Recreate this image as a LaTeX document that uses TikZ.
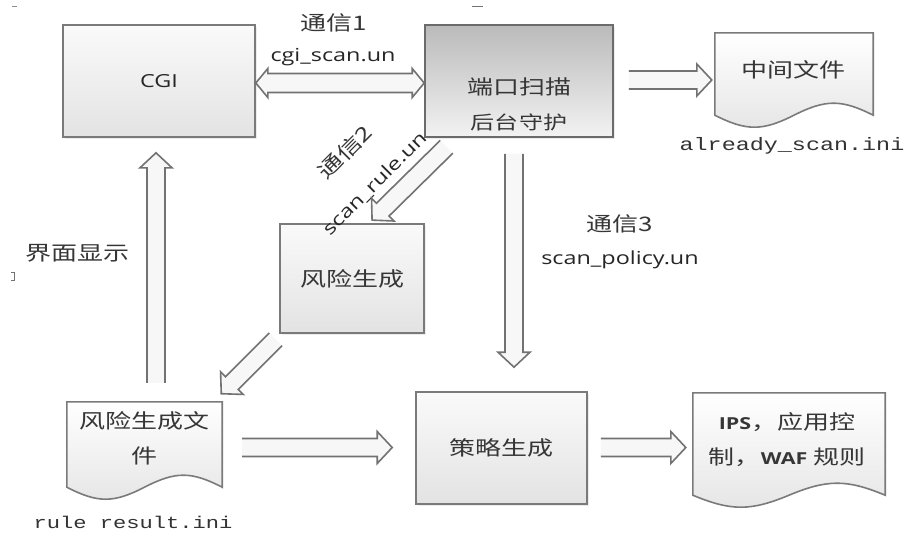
\documentclass[tikz,border=0pt]{standalone}
\usepackage{fontspec}
\newfontfamily\cjk[FakeStretch=1.3]{Noto Sans CJK SC}
\newfontfamily\latin[FakeStretch=1.3]{Open Sans}
\newfontfamily\mono[FakeStretch=1.3]{Liberation Mono}
\usetikzlibrary{calc,shadows}

\definecolor{edge}{HTML}{7A7A7A}
\definecolor{arrowedge}{HTML}{727272}
\definecolor{ink}{HTML}{363636}

% block-arrow geometry: shaft half width, head half width, head length
\newcommand\BAsw{9}
\newcommand\BAhw{16}
\newcommand\BAhl{15}

% length and direction from one named point to another
\newcommand\measure[2]{%
  \path let \p1=(#1), \p2=(#2) in \pgfextra{%
    \pgfmathparse{veclen(\x2-\x1,\y2-\y1)}\xdef\BAlen{\pgfmathresult}%
    \pgfmathparse{atan2(\y2-\y1,\x2-\x1)}\xdef\BAang{\pgfmathresult}};}

% hollow block arrow with an open tail
\newcommand\blockarrow[2]{\measure{#1}{#2}%
  \begin{scope}[shift={(#1)}, rotate=\BAang, x=1pt, y=1pt]
    \fill[arrowbody] (0,-\BAsw) -- (\BAlen-\BAhl,-\BAsw) -- (\BAlen-\BAhl,-\BAhw)
      -- (\BAlen,0) -- (\BAlen-\BAhl,\BAhw) -- (\BAlen-\BAhl,\BAsw) -- (0,\BAsw) -- cycle;
    \draw[arrowline] (0,-\BAsw) -- (\BAlen-\BAhl,-\BAsw) -- (\BAlen-\BAhl,-\BAhw)
      -- (\BAlen,0) -- (\BAlen-\BAhl,\BAhw) -- (\BAlen-\BAhl,\BAsw) -- (0,\BAsw);
  \end{scope}}

% block arrow with a head at both ends
\newcommand\doublearrow[2]{\measure{#1}{#2}%
  \begin{scope}[shift={(#1)}, rotate=\BAang, x=1pt, y=1pt]
    \filldraw[arrowbody, arrowline] (0,0) -- (\BAhl,\BAhw) -- (\BAhl,\BAsw)
      -- (\BAlen-\BAhl,\BAsw) -- (\BAlen-\BAhl,\BAhw) -- (\BAlen,0)
      -- (\BAlen-\BAhl,-\BAhw) -- (\BAlen-\BAhl,-\BAsw) -- (\BAhl,-\BAsw)
      -- (\BAhl,-\BAhw) -- cycle;
  \end{scope}}

% document outline with a wavy lower edge, drawn over a named region
\newcommand\docshape[1]{%
  \path[docbody] let \p1=(#1.north west), \p2=(#1.south east), \n1={\x2-\x1} in
    (\x1,\y1) -- (\x2,\y1) -- (\x2,\y2)
    .. controls (\x2-0.2*\n1,\y2+16pt) and (\x2-0.3*\n1,\y2+16pt) .. (\x1+0.5*\n1,\y2)
    .. controls (\x1+0.3*\n1,\y2-16pt) and (\x1+0.2*\n1,\y2-16pt) .. (\x1,\y2) -- cycle;}

\tikzset{
  arrowbody/.style={fill=black!3},
  arrowline/.style={draw=arrowedge, line width=1.6pt, line join=miter},
  lightbox/.style={draw=edge, line width=1.6pt, top color=black!2, bottom color=black!11,
    drop shadow={shadow xshift=2pt, shadow yshift=-2pt, opacity=0.15}},
  darkbox/.style={draw=black!58, line width=1.6pt, top color=black!27, bottom color=black!5,
    drop shadow={shadow xshift=2pt, shadow yshift=-2pt, opacity=0.15}},
  docbody/.style={draw=edge, line width=1.6pt, top color=white, bottom color=black!10},
  region/.style={inner sep=0pt},
  cjktext/.style={font=\cjk\fontsize{20}{35}\selectfont, text=ink, inner sep=0pt, align=center},
  latintext/.style={font=\latin\fontsize{18}{22}\selectfont, text=black!85, inner sep=0pt},
  monotext/.style={font=\mono\fontsize{18}{22}\selectfont, text=black!80, inner sep=0pt},
}

\begin{document}
\begin{tikzpicture}[x=1pt, y=-1pt]
\useasboundingbox[fill=white] (0,0) rectangle (908,536);

% stray marks along the edges
\draw[black!45, line width=1pt] (12,6) -- (17,6);
\draw[black!55, line width=1pt] (472,6) -- (483,6);
\draw[black!55, line width=0.8pt] (11,272) -- (14,272) -- (14,280) -- (11,280);

% process boxes
\node[lightbox, minimum width=192pt, minimum height=112pt,
      font=\latin\fontsize{18}{22}\selectfont, text=black!85] (cgi) at (159,81) {CGI};
\node[darkbox, minimum width=188pt, minimum height=112pt] (port) at (519,81) {};
\node[cjktext] (porttext) at (519,104.5) {端口扫描\\{\fontsize{18.5}{35}\selectfont 后台守护}};
\node[lightbox, cjktext, minimum width=144pt, minimum height=109pt] (risk) at (352,278.5) {风险生成};
\node[lightbox, cjktext, minimum width=171pt, minimum height=112pt] (policy) at (501.5,448) {策略生成};

% documents
\node[region, minimum width=158pt, minimum height=82pt] (mid) at (794,74) {};
\docshape{mid}
\node[cjktext] (midtext) at (793,70) {中间文件};
\node[monotext] (midname) at (792,146) {already\_scan.ini};

\node[region, minimum width=155pt, minimum height=85pt] (riskfile) at (144.5,444.5) {};
\docshape{riskfile}
\node[cjktext] (riskfiletext) at (144,438.5) {风险生成文\\件};
\node[monotext, font=\mono\fontsize{17}{22}\selectfont] (riskfilename) at (133,522) {rule result.ini};

\node[region, minimum width=192pt, minimum height=102pt] (ips) at (789,444) {};
\docshape{ips}
\node[cjktext] (ipstext) at (787,440)
  {{\latin\bfseries\fontsize{16.5}{35}\selectfont IPS}，应用控\\制，{\latin\bfseries\fontsize{16.5}{35}\selectfont WAF} 规则};

% connector labels
\node[cjktext] (l1a) at (334,23) {通信1};
\node[latintext] (l1b) at (333,57) {cgi\_scan.un};
\node[cjktext, rotate=45] (l2a) at (345,152) {通信2};
\node[latintext, rotate=45] (l2b) at (375,184) {scan\_rule.un};
\node[cjktext] (l3a) at (620,224) {通信3};
\node[latintext] (l3b) at (620,260) {scan\_policy.un};
\node[cjktext] (ui) at (77,253) {界面显示};

% connector end points
\coordinate (c1a) at ($(cgi.east)+(0,2)$);
\coordinate (c1b) at ($(port.west)+(0,2)$);
\coordinate (c2a) at ($(port.east)+(15,-1)$);
\coordinate (c2b) at ($(mid.west)+(-3,6)$);
\coordinate (c3a) at ($(port.south)+(-72.5,9)$);
\coordinate (c3b) at ($(risk.north)+(20,-3)$);
\coordinate (c4a) at ($(port.south)+(-5,16)$);
\coordinate (c4b) at ($(policy.north)+(12.5,-24)$);
\coordinate (c5a) at ($(risk.south west)+(-3.5,5.5)$);
\coordinate (c5b) at ($(riskfile.north east)+(-1,-8)$);
\coordinate (c6a) at ($(riskfile.north)+(11.5,-19)$);
\coordinate (c6b) at ($(cgi.south)+(-3,15)$);
\coordinate (c7a) at ($(riskfile.east)+(20,3)$);
\coordinate (c7b) at ($(policy.west)+(-23,-0.5)$);
\coordinate (c8a) at ($(policy.east)+(13,-0.5)$);
\coordinate (c8b) at ($(ips.west)+(-7,3.5)$);

% connectors
{\renewcommand\BAsw{9.5}\renewcommand\BAhw{14.5}\renewcommand\BAhl{12}%
 \doublearrow{c1a}{c1b}}
\blockarrow{c2a}{c2b}
\blockarrow{c3a}{c3b}
\blockarrow{c4a}{c4b}
\blockarrow{c5a}{c5b}
\blockarrow{c6a}{c6b}
\blockarrow{c7a}{c7b}
\blockarrow{c8a}{c8b}
\end{tikzpicture}
\end{document}
